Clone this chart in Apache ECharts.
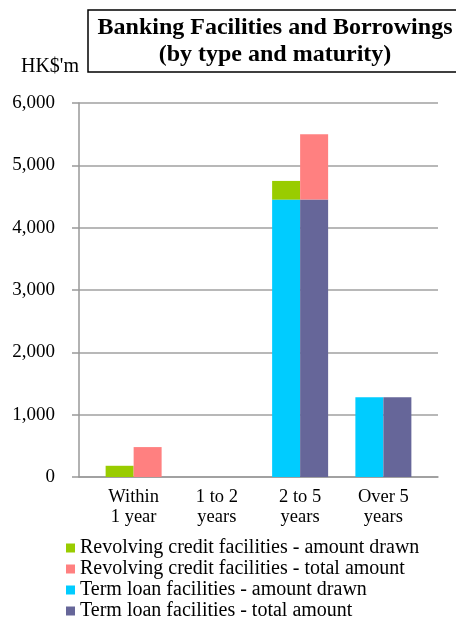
<!DOCTYPE html>
<html><head><meta charset="utf-8">
<script src="https://cdn.jsdelivr.net/npm/echarts@6/dist/echarts.min.js"></script>
<style>html,body{margin:0;padding:0;background:#fff}#c{width:456px;height:622px}</style>
</head><body><div id="c"></div>
<script>
const categories = ['Within\n1 year', '1 to 2\nyears', '2 to 5\nyears', 'Over 5\nyears'];
const revolvingDrawn = [180, 0, 300, 0];
const revolvingTotal = [480, 0, 1050, 0];
const termDrawn = [0, 0, 4450, 1280];
const termTotal = [0, 0, 4450, 1280];
const yTicks = [0, 1000, 2000, 3000, 4000, 5000, 6000];

const serif = 'Liberation Serif';
const chart = echarts.init(document.getElementById('c'));
chart.setOption({
  animation: false,
  title: {
    text: 'Banking Facilities and Borrowings\n(by type and maturity)',
    left: 265, top: 10, textAlign: 'center',
    borderColor: '#000', borderWidth: 1.5,
    padding: [4, 10, 4, 10],
    textStyle: {fontFamily: serif, fontWeight: 'bold', fontSize: 24, color: '#000', lineHeight: 27}
  },
  legend: {
    orient: 'vertical', left: 61, top: 533, height: 90,
    itemWidth: 9, itemHeight: 9, itemGap: 1,
    icon: 'rect',
    textStyle: {fontFamily: serif, fontSize: 20, color: '#000', lineHeight: 20},
    data: ['Revolving credit facilities - amount drawn', 'Revolving credit facilities - total amount',
           'Term loan facilities - amount drawn', 'Term loan facilities - total amount']
  },
  grid: [
    {left: 79, right: 18, top: 103, bottom: 145},
    {left: 92, right: 31, top: 103, bottom: 145}
  ],
  xAxis: [
    {type: 'category', gridIndex: 0, data: categories,
     axisLine: {show: true, lineStyle: {color: '#999', width: 1.5}},
     axisTick: {show: false}, axisLabel: {show: false}},
    {type: 'category', gridIndex: 1, data: categories,
     axisLine: {show: false}, axisTick: {show: false},
     axisLabel: {fontFamily: serif, fontSize: 18.5, color: '#000', lineHeight: 20, margin: 10}}
  ],
  yAxis: [
    {type: 'value', gridIndex: 0, min: yTicks[0], max: yTicks[yTicks.length - 1], interval: 1000,
     name: "HK$'m", nameLocation: 'end', nameGap: 26,
     nameTextStyle: {fontFamily: serif, fontSize: 20, color: '#000', align: 'right', padding: [0, 0, 0, 0]},
     axisLine: {show: true, lineStyle: {color: '#999', width: 1.5}},
     axisTick: {show: true, length: 7, lineStyle: {color: '#999', width: 1.5}},
     splitLine: {show: true, lineStyle: {color: '#a0a0a0', width: 1.5}},
     axisLabel: {fontFamily: serif, fontSize: 19, color: '#000', margin: 24,
       formatter: v => v.toLocaleString('en-US')}},
    {type: 'value', gridIndex: 1, min: 0, max: 6000, show: false, splitLine: {show: false}}
  ],
  series: [
    {name: 'Term loan facilities - amount drawn', type: 'bar', stack: 'drawn', xAxisIndex: 1, yAxisIndex: 1,
     data: termDrawn, itemStyle: {color: '#00CCFF'}, barWidth: 28, barGap: '0%'},
    {name: 'Revolving credit facilities - amount drawn', type: 'bar', stack: 'drawn', xAxisIndex: 1, yAxisIndex: 1,
     data: revolvingDrawn, itemStyle: {color: '#99CC00'}, barWidth: 28, barGap: '0%'},
    {name: 'Term loan facilities - total amount', type: 'bar', stack: 'total', xAxisIndex: 1, yAxisIndex: 1,
     data: termTotal, itemStyle: {color: '#666699'}, barWidth: 28, barGap: '0%'},
    {name: 'Revolving credit facilities - total amount', type: 'bar', stack: 'total', xAxisIndex: 1, yAxisIndex: 1,
     data: revolvingTotal, itemStyle: {color: '#FF8080'}, barWidth: 28, barGap: '0%'}
  ]
});
</script></body></html>
